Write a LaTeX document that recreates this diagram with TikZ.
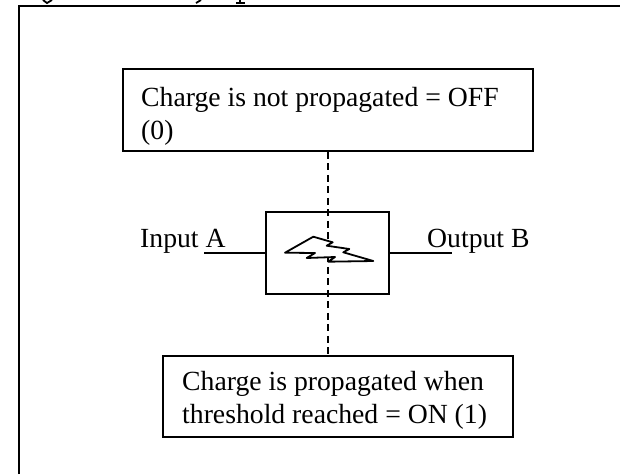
\documentclass[tikz,border=0pt]{standalone}
\usepackage{fontspec}
\setmainfont{Liberation Serif}
\tikzset{
    x=1pt, y=-1pt,
    line/.style={line width=1.8pt},
    box/.style={draw, line width=1.8pt},
    lbl/.style={inner sep=0pt, align=left, font=\fontsize{27.7}{33}\selectfont}
}
\begin{document}
\begin{tikzpicture}
    \useasboundingbox (0,0) rectangle (620,474);
    % frame, open on the right and at the bottom
    \coordinate (framebottom) at (19,474);
    \coordinate (framecorner) at (19,6);
    \coordinate (frameright) at (620,6);
    \draw[line] (framebottom) -- (framecorner) -- (frameright);
    % what is left of the heading
    \draw[line] (43,0) -- (47,3) -- (52,0);
    \draw[line] (196,3) -- (201,0);
    \draw[line] (236,3) -- (245,3) (240,0) -- (240,3);
    \node[box, minimum width=410pt, minimum height=82pt] (off) at (328,110) {};
    \node[lbl, anchor=west] (offtext) at (141,116) {Charge is not propagated = OFF\\(0)};
    \node[box, minimum width=350pt, minimum height=81pt] (on) at (338,396.5) {};
    \node[lbl, anchor=west] (ontext) at (182,400) {Charge is propagated when\\threshold reached = ON (1)};
    \node[box, minimum width=123pt, minimum height=82pt] (gate) at (327.5,253) {};
    % the charge axis runs through the gate
    \draw[line width=1.8pt, dash pattern=on 7pt off 4.5pt] (off.south) -- (off.south |- on.north);
    \node[lbl, anchor=base west] (input) at (140,247) {Input A};
    \node[lbl, anchor=base west] (output) at (427,247) {Output B};
    \coordinate (inend) at (204,253);
    \coordinate (outend) at (452,253);
    \draw[line] (inend) -- (gate.west);
    \draw[line] (gate.east) -- (outend);
    % spark
    \draw[line, fill=white, line join=round] (285,252.7) -- (313.3,236.7) -- (332.7,242.3) -- (326.7,245.7)
        -- (349.3,249) -- (343.3,252.3) -- (373.3,261) -- (328.3,261.7) -- (335,257)
        -- (306.7,258) -- (315,253) -- cycle;
\end{tikzpicture}
\end{document}
